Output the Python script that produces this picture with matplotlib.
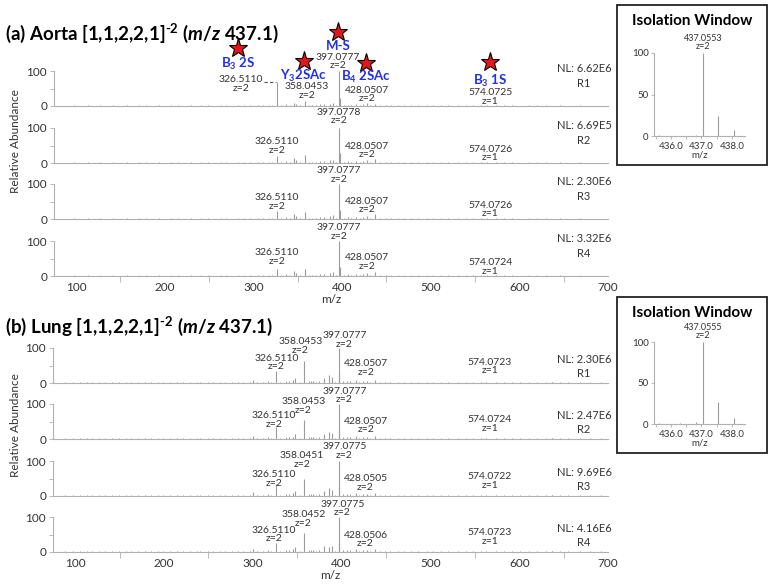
import matplotlib
matplotlib.use("Agg")
import matplotlib.pyplot as plt
from matplotlib.patches import Rectangle

plt.rcParams['font.family'] = ['Lato', 'DejaVu Sans']
plt.rcParams['mathtext.fontset'] = 'custom'
plt.rcParams['mathtext.rm'] = 'Lato:bold'
plt.rcParams['mathtext.it'] = 'Lato:bold:italic'
plt.rcParams['mathtext.bf'] = 'Lato:bold'

# ---- data -------------------------------------------------------------
# main fragment peaks (m/z) and relative abundance per replicate
aorta_mz = [296.5, 326.511, 345.7, 348.0, 358.045, 380.0, 386.0, 389.5,
            397.078, 397.58, 406.5, 416.0, 428.051, 437.055, 574.07]
aorta_r1 = [3, 68, 8, 6, 15, 5, 6, 8, 100, 22, 4, 5, 8, 6, 4]
aorta_r2 = [4, 20, 15, 8, 22, 6, 9, 10, 100, 28, 5, 6, 10, 12, 4]
aorta_r3 = [4, 22, 13, 8, 20, 6, 8, 11, 100, 27, 5, 6, 9, 13, 4]
aorta_r4 = [4, 20, 14, 8, 21, 7, 10, 12, 100, 26, 5, 6, 8, 12, 4]

lung_mz = [296.5, 300.0, 326.511, 345.7, 348.0, 358.045, 368.0, 380.0, 385.5,
           389.5, 397.078, 397.58, 406.5, 416.0, 428.051, 437.055, 574.07, 637.0]
lung_r1 = [4, 10, 35, 8, 14, 62, 5, 15, 22, 17, 100, 28, 5, 8, 6, 10, 4, 3]
lung_r2 = [4, 9, 34, 7, 13, 55, 5, 14, 20, 16, 100, 27, 5, 8, 6, 9, 4, 3]
lung_r3 = [4, 11, 33, 8, 13, 50, 5, 15, 22, 17, 100, 27, 5, 8, 6, 9, 4, 3]
lung_r4 = [4, 10, 27, 8, 14, 55, 5, 16, 14, 17, 100, 27, 5, 8, 6, 9, 4, 3]

# small background peaks
noise_mz = [89, 97, 105, 113, 119, 127, 133, 141, 149, 157, 163, 171, 179, 185,
            193, 199, 207, 215, 221, 229, 237, 241, 249, 255, 263, 269, 277, 283,
            289, 305, 311, 317, 321, 331, 337, 341, 353, 363, 366, 371, 375, 393,
            402, 410, 420, 424, 432, 443, 449, 455, 463, 470, 478, 486, 496, 503,
            512, 520, 531, 540, 548, 557, 563, 583, 592, 601, 611, 620, 630, 637,
            646, 655, 668, 680, 692]
aorta_noise = [1, 1.5, 1, 2, 1, 1.5, 1, 2, 1, 1.5, 1, 2, 1.5, 1, 2, 1, 1.5, 2, 1,
               1.5, 1, 2, 1.5, 1, 2, 1.5, 1, 2, 2, 3, 2, 4, 3, 3, 5, 4, 3, 4, 4, 3,
               5, 3, 4, 4, 3, 5, 3, 2, 3, 2, 2, 1.5, 2, 1.5, 2, 1.5, 2, 1.5, 2,
               1.5, 2, 1.5, 1.5, 2, 1.5, 1, 1.5, 2, 1.5, 1, 1.5, 1, 1.5, 1, 1]
lung_noise = [1.5, 2, 1.5, 2.5, 1.5, 2, 1.5, 3, 1.5, 2, 1.5, 2.5, 2, 1.5, 2.5, 1.5,
              2, 3, 1.5, 2, 1.5, 2.5, 2, 1.5, 2.5, 2, 1.5, 3, 4, 4, 3, 5, 4, 4, 6,
              5, 4, 6, 5, 4, 6, 4, 5, 5, 4, 6, 4, 3, 3, 2.5, 2.5, 2, 2.5, 2, 3, 2,
              2.5, 2, 2.5, 2, 2.5, 2.5, 2, 2.5, 2, 1.5, 2, 2.5, 2, 3, 2, 1.5, 2,
              1.5, 1.5]

aorta_nl = ['6.62E6', '6.69E5', '2.30E6', '3.32E6']
lung_nl = ['2.30E6', '2.47E6', '9.69E6', '4.16E6']

aorta_lbl = [['326.5110', '358.0453', '397.0777', '428.0507', '574.0725'],
             ['326.5110', None, '397.0778', '428.0507', '574.0726'],
             ['326.5110', None, '397.0777', '428.0507', '574.0726'],
             ['326.5110', None, '397.0777', '428.0507', '574.0724']]
lung_lbl = [['326.5110', '358.0453', '397.0777', '428.0507', '574.0723'],
            ['326.5110', '358.0453', '397.0777', '428.0507', '574.0724'],
            ['326.5110', '358.0451', '397.0775', '428.0505', '574.0722'],
            ['326.5110', '358.0452', '397.0775', '428.0506', '574.0723']]
lbl_z = ['z=2', 'z=2', 'z=2', 'z=2', 'z=1']

iso_mz = [435.62, 436.3, 436.82, 437.055, 437.557, 438.06]
iso_aorta = [0.8, 0.6, 1.0, 100, 24, 7]
iso_lung = [0.8, 0.8, 2.0, 100, 27, 7]

# ---- layout -------------------------------------------------------------
W, H = 772, 588
GRAY = '#9c9c9c'
AXC = '#b0b0b0'
TXT = '#333333'
BLUE = '#1f2ff0'

fig = plt.figure(figsize=(W / 100, H / 100), dpi=100)


def rect(l, r, base, top):
    return [l / W, 1 - base / H, (r - l) / W, (base - top) / H]


def style(ax):
    for s in ['top', 'right']:
        ax.spines[s].set_visible(False)
    for s in ['left', 'bottom']:
        ax.spines[s].set_color(AXC)
        ax.spines[s].set_linewidth(0.8)
    ax.set_facecolor('none')


def spectrum(ax, mz, inten, nmz, nint, bottom):
    ax.vlines(nmz, 0, nint, color=GRAY, lw=0.7, clip_on=False)
    ax.vlines(mz, 0, inten, color=GRAY, lw=0.8, clip_on=False)
    ax.set_xlim(75, 700)
    ax.set_ylim(0, 100)
    style(ax)
    ax.set_yticks([0, 50, 100])
    ax.set_yticklabels(['0', '', '100'])
    ax.tick_params(axis='y', length=3, width=0.6, color=AXC, labelsize=8.5,
                   labelcolor=TXT, pad=2)
    if bottom:
        ax.set_xticks(range(100, 701, 100))
        ax.set_xticks(range(150, 700, 100), minor=True)
        ax.tick_params(axis='x', which='major', length=0, labelsize=8.5,
                       labelcolor=TXT, pad=4)
        ax.tick_params(axis='x', which='minor', length=4, width=0.6, color=AXC)
    else:
        ax.set_xticks([])


def label(ax, x, y, s, size=7.5):
    ax.text(x, y, s, ha='center', va='center', fontsize=size, color=TXT,
            linespacing=0.95, clip_on=False)


# label positions (m/z, % height) for 326, 358, 397, 428, 574 labels
aorta_pos = [[(286, 63), (360.4, 43), (395.4, 127), (428, 33), (567, 26)],
             [(326.6, 49), None, (396.5, 133), (428, 36), (567, 27)],
             [(326.6, 49), None, (396.5, 126), (428, 39), (567, 27)],
             [(326.6, 54), None, (396.5, 126), (428, 40), (567, 26)]]
lung_pos = [[(326.5, 59), (353.6, 106), (403, 123), (428, 43), (567, 47)],
            [(324, 54), (357, 95), (403, 124), (428, 39), (567, 43)],
            [(324, 49), (355, 103), (403, 128), (427, 37), (567, 43)],
            [(324, 50), (357, 95), (401, 124), (427, 36), (567, 43)]]

sections = [
    (aorta_mz, [aorta_r1, aorta_r2, aorta_r3, aorta_r4], aorta_noise, aorta_nl,
     aorta_lbl, aorta_pos, [106, 163, 219, 276], 86, 54),
    (lung_mz, [lung_r1, lung_r2, lung_r3, lung_r4], lung_noise, lung_nl,
     lung_lbl, lung_pos, [383, 439, 496, 552], 47, 53),
]

first_axes = []
for mz, reps, noise, nls, lbls, poss, bases, nl_y, left in sections:
    for i, (inten, base) in enumerate(zip(reps, bases)):
        ax = fig.add_axes(rect(left, 608, base, base - 35))
        spectrum(ax, mz, inten, noise_mz, noise, i == 3)
        for txt, z, pos in zip(lbls[i], lbl_z, poss[i]):
            if txt is None:
                continue
            label(ax, pos[0], pos[1], txt + '\n' + z)
        ax.text(673, nl_y, 'NL: ' + nls[i] + '\nR' + str(i + 1), ha='center',
                va='center', fontsize=8, color=TXT, linespacing=1.4,
                clip_on=False)
        if i == 0:
            first_axes.append(ax)
        if i == 3:
            ax.set_xlabel('m/z', fontsize=8.5, color=TXT, labelpad=1)

# dashed leader for 326.5110 in aorta R1
first_axes[0].plot([312, 325.5], [68.6, 68.6], ls=(0, (3, 2)), color='#555555',
                   lw=0.8, clip_on=False)

# fragment annotations (aorta R1)
ax0 = first_axes[0]
stars = [(282.6, 165), (395.4, 212), (357.0, 129), (427.0, 123), (566.9, 125)]
names = ['B$_3$ 2S', 'M-S', 'Y$_3$2SAc', 'B$_4$ 2SAc', 'B$_3$ 1S']
name_pos = [(282.6, 119), (395.4, 170), (357.0, 87), (427.0, 82), (566.9, 71)]
for (sx, sy), nm, (nx, ny) in zip(stars, names, name_pos):
    ax0.plot(sx, sy, marker='*', ms=14, mfc='#e8141b', mec='black', mew=0.8,
             clip_on=False)
    ax0.text(nx, ny, nm, ha='center', va='center', fontsize=9.5,
             fontweight='bold', color=BLUE, clip_on=False)

# section titles and y labels
fig.text(5 / W, 1 - 33 / H, '(a) Aorta [1,1,2,2,1]$^{\u2010 2}$ ($\\mathit{m/z}$ 437.1)',
         fontsize=13.5, fontweight='bold', va='center', ha='left', color='black')
fig.text(5 / W, 1 - 326 / H, '(b) Lung [1,1,2,2,1]$^{\u2010 2}$ ($\\mathit{m/z}$ 437.1)',
         fontsize=13.5, fontweight='bold', va='center', ha='left', color='black')
for yc in [141, 425]:
    fig.text(16 / W, 1 - yc / H, 'Relative Abundance', rotation=90, fontsize=8.5,
             color=TXT, ha='center', va='center')

# isolation window insets
insets = [(iso_aorta, '437.0553', 5, 165, 136, 53),
          (iso_lung, '437.0555', 297, 453, 424, 342)]
for inten, pk, btop, bbot, y0, y100 in insets:
    fig.patches.append(Rectangle((617 / W, 1 - bbot / H), 150 / W,
                                 (bbot - btop) / H, transform=fig.transFigure,
                                 fill=False, ec='#222222', lw=1.3))
    fig.text(692 / W, 1 - (btop + 16) / H, 'Isolation Window', fontsize=11,
             fontweight='bold', ha='center', va='center', color='black')
    ia = fig.add_axes(rect(654, 745, y0, y100))
    ia.vlines(iso_mz, 0, inten, color=GRAY, lw=0.8)
    ia.set_xlim(435.45, 438.43)
    ia.set_ylim(0, 100)
    style(ia)
    ia.set_yticks([0, 50, 100])
    ia.set_xticks([436.0, 437.0, 438.0])
    ia.set_xticklabels(['436.0', '437.0', '438.0'])
    ia.set_xticks([435.5, 436.5, 437.5], minor=True)
    ia.tick_params(length=2, width=0.6, color=AXC, labelsize=7,
                   labelcolor=TXT, pad=2)
    ia.tick_params(which='minor', length=2, width=0.6, color=AXC)
    ia.set_xlabel('m/z', fontsize=7, color=TXT, labelpad=0)
    ia.text(437.055, 103, pk + '\nz=2', ha='center', va='bottom', fontsize=6.5,
            color=TXT, linespacing=0.85, clip_on=False)

fig.savefig('out.png', dpi=100)
